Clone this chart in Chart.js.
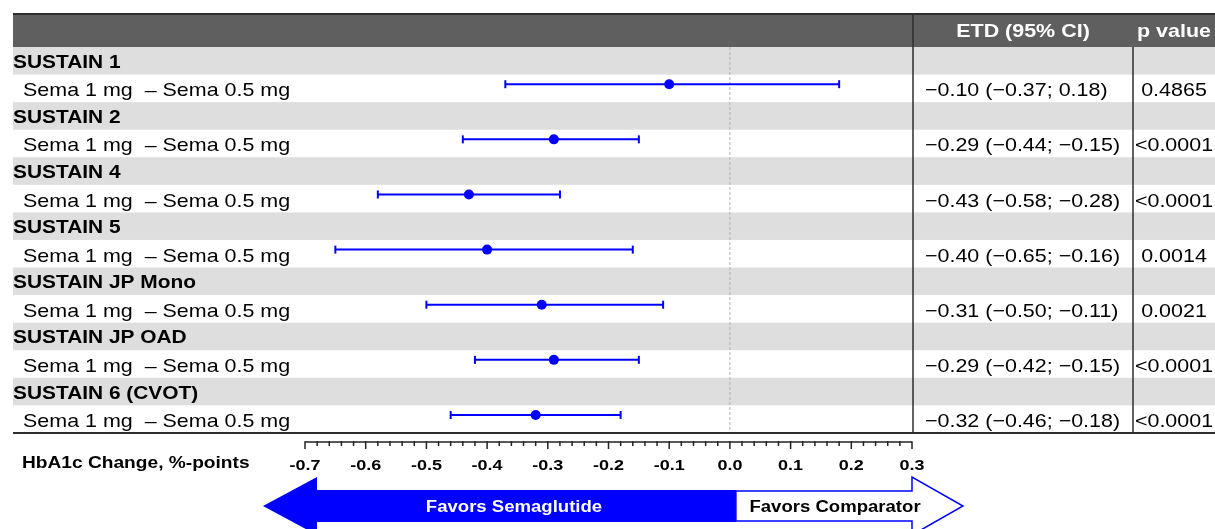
<!DOCTYPE html>
<html lang="en">
<head>
<meta charset="UTF-8">
<title>HbA1c ETD – Sema 1 mg vs Sema 0.5 mg</title>
<script src="https://cdn.jsdelivr.net/npm/chart.js@4.4.0/dist/chart.umd.min.js"></script>
<style>
    html, body { margin: 0; padding: 0; background: #fff; }
    #wrap { width: 1215px; height: 529px; }
</style>
</head>
<body>
<div id="wrap"><canvas id="forest"></canvas></div>
<script>
// Trial results: estimated treatment difference with 95% CI
const studies = ['SUSTAIN 1', 'SUSTAIN 2', 'SUSTAIN 4', 'SUSTAIN 5', 'SUSTAIN JP Mono', 'SUSTAIN JP OAD', 'SUSTAIN 6 (CVOT)'];
const comparison = 'Sema 1 mg  \u2013 Sema 0.5 mg';
const etd = [-0.10, -0.29, -0.43, -0.40, -0.31, -0.29, -0.32];
const ciLow = [-0.37, -0.44, -0.58, -0.65, -0.50, -0.42, -0.46];
const ciHigh = [0.18, -0.15, -0.28, -0.16, -0.11, -0.15, -0.18];
const pValues = ['0.4865', '<0.0001', '<0.0001', '0.0014', '0.0021', '<0.0001', '<0.0001'];
const tickLabels = ['-0.7', '-0.6', '-0.5', '-0.4', '-0.3', '-0.2', '-0.1', '0.0', '0.1', '0.2', '0.3'];
const headers = ['ETD (95% CI)', 'p value'];
const axisTitle = 'HbA1c Change, %-points';
const favorsLeft = 'Favors Semaglutide';
const favorsRight = 'Favors Comparator';

const BLUE = '#0000ff';
const FONT = '"Liberation Sans", Arial, sans-serif';
const SX = 1.16;            // text is set slightly wide
const LEFT = 13;            // left edge of the table
const ETD_COL = 913;        // divider before the ETD column
const P_COL = 1133;         // divider before the p value column
const ROWS = studies.length * 2;
const pointRow = i => 2 * i + 1.35;

const fmt = v => (v < 0 ? '\u2212' : '') + Math.abs(v).toFixed(2);

function say(ctx, str, px, py, font, color, align) {
    ctx.save();
    ctx.font = font;
    ctx.fillStyle = color;
    ctx.textAlign = align || 'left';
    ctx.textBaseline = 'alphabetic';
    ctx.translate(px, py);
    ctx.scale(SX, 1);
    ctx.fillText(str, 0, 0);
    ctx.restore();
}

function seg(ctx, x1, y1, x2, y2) {
    ctx.beginPath();
    ctx.moveTo(x1, y1);
    ctx.lineTo(x2, y2);
    ctx.stroke();
}

const tablePlugin = {
    id: 'table',
    beforeDraw(chart) {
        const {ctx, width, height} = chart;
        const {x, y} = chart.scales;
        ctx.save();
        ctx.fillStyle = '#fff';
        ctx.fillRect(0, 0, width, height);

        // header bar
        const top = y.getPixelForValue(0);
        ctx.fillStyle = '#5f5f5f';
        ctx.fillRect(LEFT, 14, width - LEFT, top - 14);
        ctx.strokeStyle = '#2e2e2e';
        ctx.lineWidth = 2;
        seg(ctx, LEFT, 14, width, 14);

        // grey band behind each study name
        ctx.fillStyle = '#dedede';
        studies.forEach((s, i) => {
            const a = y.getPixelForValue(2 * i), b = y.getPixelForValue(2 * i + 1);
            ctx.fillRect(LEFT, a, width - LEFT, b - a);
        });

        // line of no difference
        const x0 = x.getPixelForValue(0);
        ctx.strokeStyle = '#b0b0b0';
        ctx.lineWidth = 1;
        ctx.setLineDash([3, 2]);
        seg(ctx, x0, top, x0, y.getPixelForValue(ROWS));
        ctx.restore();
    },
    afterDraw(chart) {
        const {ctx, width} = chart;
        const {x, y} = chart.scales;
        const top = y.getPixelForValue(0);
        const bottom = y.getPixelForValue(ROWS);
        ctx.save();

        // table rules
        ctx.strokeStyle = '#2e2e2e';
        ctx.lineWidth = 2;
        seg(ctx, LEFT, bottom, width, bottom);
        ctx.lineWidth = 1.5;
        seg(ctx, ETD_COL, 14, ETD_COL, bottom);
        seg(ctx, P_COL, top, P_COL, bottom);

        // column headers
        const hy = (14 + top) / 2 + 6.5;
        say(ctx, headers[0], (ETD_COL + P_COL) / 2, hy, 'bold 18.5px ' + FONT, '#fff', 'center');
        say(ctx, headers[1], (P_COL + width) / 2, hy, 'bold 18.5px ' + FONT, '#fff', 'center');

        // row labels and estimates
        studies.forEach((s, i) => {
            const hb = (y.getPixelForValue(2 * i) + y.getPixelForValue(2 * i + 1)) / 2 + 7;
            const rb = (y.getPixelForValue(2 * i + 1) + y.getPixelForValue(2 * i + 2)) / 2 + 8;
            say(ctx, s, LEFT, hb, 'bold 18px ' + FONT, '#000');
            say(ctx, comparison, 23, rb, '18.5px ' + FONT, '#000');
            const txt = fmt(etd[i]) + ' (' + fmt(ciLow[i]) + '; ' + fmt(ciHigh[i]) + ')';
            say(ctx, txt, ETD_COL + 12, rb, '18.5px ' + FONT, '#000');
            say(ctx, pValues[i], (P_COL + width) / 2, rb, '18.5px ' + FONT, '#000', 'center');
        });

        // x axis: line, major/minor ticks, labels
        const ay = x.top;
        ctx.strokeStyle = '#222';
        ctx.lineWidth = 1.5;
        seg(ctx, x.left, ay, x.right, ay);
        x.ticks.forEach(t => {
            const px = x.getPixelForValue(t.value);
            const major = Math.abs(t.value * 10 - Math.round(t.value * 10)) < 1e-6;
            seg(ctx, px, ay - 0.75, px, ay + (major ? 7 : 4));
        });
        tickLabels.forEach(l => {
            say(ctx, l, x.getPixelForValue(parseFloat(l)), 470, 'bold 15.5px ' + FONT, '#000', 'center');
        });
        say(ctx, axisTitle, 22, 468, 'bold 16.5px ' + FONT, '#000');

        // direction arrows
        const xEnd = x.getPixelForValue(0) + 6;
        const xHead = x.getPixelForValue(0.3);
        const mid = 506;
        ctx.strokeStyle = BLUE;
        ctx.lineWidth = 1.5;
        ctx.fillStyle = '#fff';
        ctx.beginPath();
        ctx.moveTo(xEnd, mid - 15);
        ctx.lineTo(xHead, mid - 15);
        ctx.lineTo(xHead, mid - 29);
        ctx.lineTo(xHead + 51, mid);
        ctx.lineTo(xHead, mid + 29);
        ctx.lineTo(xHead, mid + 15);
        ctx.lineTo(xEnd, mid + 15);
        ctx.closePath();
        ctx.fill();
        ctx.stroke();

        ctx.fillStyle = BLUE;
        ctx.beginPath();
        ctx.moveTo(263, mid);
        ctx.lineTo(317, mid - 29);
        ctx.lineTo(317, mid - 16);
        ctx.lineTo(xEnd, mid - 16);
        ctx.lineTo(xEnd, mid + 16);
        ctx.lineTo(317, mid + 16);
        ctx.lineTo(317, mid + 29);
        ctx.closePath();
        ctx.fill();

        say(ctx, favorsLeft, 514, mid + 6, 'bold 16px ' + FONT, '#fff', 'center');
        say(ctx, favorsRight, 835, mid + 6, 'bold 16px ' + FONT, '#000', 'center');
        ctx.restore();
    }
};

// one two-point line per trial for the CI, with bar caps at both ends
const datasets = studies.map((s, i) => ({
    label: s,
    data: [{x: ciLow[i], y: pointRow(i)}, {x: ciHigh[i], y: pointRow(i)}],
    showLine: true,
    borderColor: BLUE,
    borderWidth: 2,
    pointStyle: 'line',
    rotation: 90,
    pointRadius: 4,
    pointBorderWidth: 2,
    pointBorderColor: BLUE
}));
datasets.push({
    label: 'ETD',
    data: etd.map((v, i) => ({x: v, y: pointRow(i)})),
    pointStyle: 'circle',
    pointRadius: 5,
    backgroundColor: BLUE,
    borderColor: BLUE,
    borderWidth: 0
});

new Chart(document.getElementById('forest'), {
    type: 'scatter',
    data: {datasets},
    plugins: [tablePlugin],
    options: {
        responsive: true,
        maintainAspectRatio: false,
        animation: false,
        events: [],
        layout: {padding: {left: 305, right: 303, top: 47, bottom: 47}},
        plugins: {legend: {display: false}, tooltip: {enabled: false}},
        scales: {
            x: {
                type: 'linear',
                min: -0.7,
                max: 0.3,
                grid: {display: false},
                border: {display: false},
                ticks: {display: false, stepSize: 0.02},
                afterFit(scale) { scale.height = 40; }
            },
            y: {
                type: 'linear',
                reverse: true,
                min: 0,
                max: ROWS + 0.33,
                display: false
            }
        }
    }
});
</script>
</body>
</html>
